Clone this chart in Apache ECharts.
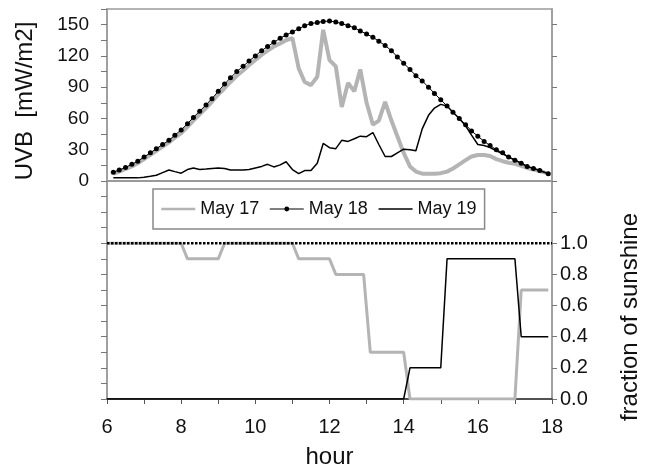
<!DOCTYPE html>
<html>
<head>
<meta charset="utf-8">
<script src="https://cdn.jsdelivr.net/npm/echarts@6/dist/echarts.min.js"></script>
<style>
  html, body { margin: 0; padding: 0; background: #fff; }
  #chart { width: 652px; height: 466px; }
</style>
</head>
<body>
<div id="chart"></div>
<script>
// time of day (hour), 10 min steps
var hours = [
  6.17, 6.33, 6.5, 6.67, 6.83, 7,
  7.17, 7.33, 7.5, 7.67, 7.83, 8,
  8.17, 8.33, 8.5, 8.67, 8.83, 9,
  9.17, 9.33, 9.5, 9.67, 9.83, 10,
  10.17, 10.33, 10.5, 10.67, 10.83, 11,
  11.17, 11.33, 11.5, 11.67, 11.83, 12,
  12.17, 12.33, 12.5, 12.67, 12.83, 13,
  13.17, 13.33, 13.5, 13.67, 13.83, 14,
  14.17, 14.33, 14.5, 14.67, 14.83, 15,
  15.17, 15.33, 15.5, 15.67, 15.83, 16,
  16.17, 16.33, 16.5, 16.67, 16.83, 17,
  17.17, 17.33, 17.5, 17.67, 17.9
];
// UVB [mW/m2]
var uvbMay17 = [
  7, 9, 11.5, 14, 17, 21,
  25, 29, 33, 37, 41.5, 46,
  52, 58, 64, 70, 76, 83,
  89, 95, 101, 106, 111, 116,
  121, 125, 129, 132, 135, 137,
  108, 95, 92, 100, 145, 116,
  110, 71, 94, 86, 107, 75,
  54, 58, 76, 58, 43, 27,
  14, 9, 7, 7, 7, 7.5,
  9, 12, 16, 20, 23.5, 25,
  25, 24, 21, 19, 17.5, 16.5,
  14.5, 12.5, 11, 9.5, 7
];
var uvbMay18 = [
  8.5, 10.5, 13, 16, 19, 23,
  27, 31, 35, 39, 44, 49,
  55, 61, 67, 73, 79, 86,
  93, 99, 105, 110, 115, 120,
  125, 129, 133, 137, 140, 143,
  146, 149, 151, 152, 153, 153.5,
  152.5, 151, 149, 147, 144, 141,
  138, 134, 130, 125, 119, 113,
  107, 101, 96, 90, 84, 78,
  72, 66, 60, 54, 48, 43,
  38, 34, 30, 27, 23, 20,
  17, 14, 12, 10, 7
];
var uvbMay19 = [
  3, 3, 3, 3, 3, 3.5,
  4.5, 5.5, 8, 10.5, 9, 7.5,
  11, 12.5, 11, 11.5, 12, 12.5,
  12, 10.5, 10.5, 10.5, 11, 12.5,
  14, 16, 13.5, 15.5, 18.5, 11,
  7, 10, 10, 17, 36, 32,
  31, 39, 38, 40.5, 43, 42.5,
  46.5, 35, 23.5, 23.5, 27, 30.5,
  30, 29, 50, 63, 70, 73.5,
  72, 66, 60, 53, 44, 35,
  34, 32, 29, 26, 23, 20,
  17, 14, 12, 10, 7
];
// fraction of sunshine
var fracHours17 = [6, 8, 8.17, 9, 9.17, 11, 11.17, 12, 12.17, 12.92, 13.1, 14, 14.17, 17, 17.17, 17.9];
var fracMay17 = [1, 1, 0.9, 0.9, 1, 1, 0.9, 0.9, 0.8, 0.8, 0.3, 0.3, 0, 0, 0.7, 0.7];
var fracHours18 = [6, 18];
var fracMay18 = [1, 1];
var fracHours19 = [6, 14, 14.17, 15, 15.17, 17, 17.17, 17.9];
var fracMay19 = [0, 0, 0.2, 0.2, 0.9, 0.9, 0.4, 0.4];

function pairs(xs, ys) {
  var out = [];
  for (var i = 0; i < xs.length; i++) out.push([xs[i], ys[i]]);
  return out;
}

var FONT = 'Liberation Sans, Arial, sans-serif';
var GRAY = '#b4b4b4';
var FRAME = '#9a9a9a';
var NO_DOT = {color: 'rgba(0,0,0,0)', borderWidth: 0};

var chart = echarts.init(document.getElementById('chart'));
var option = {
  animation: false,
  textStyle: {fontFamily: FONT, color: '#111'},
  grid: [
    {left: 107, right: 100, top: 9, height: 172, show: true, borderColor: FRAME, borderWidth: 1.5, outerBoundsMode: 'none', containLabel: false},
    {left: 107, right: 100, top: 181, height: 218, show: true, borderColor: FRAME, borderWidth: 1.5, outerBoundsMode: 'none', containLabel: false}
  ],
  legend: {
    left: 153, top: 189,
    padding: [11, 8, 11, 7],
    itemGap: 10, itemWidth: 34, itemHeight: 6,
    borderColor: '#888', borderWidth: 1.5,
    textStyle: {fontSize: 18, color: '#111', fontFamily: FONT},
    data: [
      {name: 'May 17', lineStyle: {width: 2.5, color: GRAY}, itemStyle: NO_DOT},
      {name: 'May 18', lineStyle: {width: 1, color: '#000'}, itemStyle: {color: '#000'}},
      {name: 'May 19', lineStyle: {width: 1.5, color: '#000'}, itemStyle: NO_DOT}
    ]
  },
  xAxis: [
    {
      gridIndex: 0, type: 'value', min: 6, max: 18, interval: 2,
      axisLine: {onZero: false, lineStyle: {color: FRAME, width: 2}},
      axisTick: {show: false}, axisLabel: {show: false}, splitLine: {show: false}
    },
    {
      gridIndex: 1, type: 'value', min: 6, max: 18, interval: 1,
      axisLine: {onZero: false, lineStyle: {color: '#333', width: 1.5}},
      axisTick: {length: 5, lineStyle: {color: '#555'}},
      axisLabel: {
        fontSize: 20, color: '#111', margin: 18,
        formatter: function (v) { return v % 2 === 0 ? v : ''; }
      },
      splitLine: {show: false},
      name: 'hour', nameLocation: 'middle', nameGap: 46,
      nameTextStyle: {fontSize: 24, color: '#111'}
    }
  ],
  yAxis: [
    {
      gridIndex: 0, type: 'value', position: 'left', min: 0, max: 165, interval: 15,
      axisLine: {show: true, lineStyle: {color: FRAME, width: 1.5}},
      axisTick: {show: true, length: 6, lineStyle: {color: '#777'}},
      axisLabel: {
        fontSize: 19, color: '#111', margin: 18,
        formatter: function (v) { return (v % 30 === 0 && v <= 150) ? v : ''; }
      },
      splitLine: {show: false},
      name: 'UVB  [mW/m2]', nameLocation: 'middle', nameRotate: 90, nameGap: 70,
      nameTextStyle: {fontSize: 24, color: '#111', padding: [0, 12, 0, 0]}
    },
    {
      gridIndex: 0, type: 'value', position: 'right', min: 0, max: 165, interval: 30,
      axisLine: {show: true, lineStyle: {color: FRAME, width: 1.5}},
      axisTick: {show: true, length: 5, lineStyle: {color: '#777'}, customValues: [0, 30, 60, 90, 120, 150]},
      axisLabel: {show: false}, splitLine: {show: false}
    },
    {
      gridIndex: 1, type: 'value', position: 'left', min: 0, max: 1.4, interval: 0.1,
      axisLine: {show: true, lineStyle: {color: FRAME, width: 1.5}},
      axisTick: {show: true, length: 6, lineStyle: {color: '#777'}},
      axisLabel: {show: false}, splitLine: {show: false}
    },
    {
      gridIndex: 1, type: 'value', position: 'right', min: 0, max: 1.4, interval: 0.2,
      axisLine: {show: true, lineStyle: {color: FRAME, width: 1.5}},
      axisTick: {show: true, length: 5, lineStyle: {color: '#777'}},
      axisLabel: {
        fontSize: 20, color: '#111', margin: 8,
        formatter: function (v) { return v <= 1.0001 ? v.toFixed(1) : ''; }
      },
      splitLine: {show: false},
      name: 'fraction of sunshine', nameLocation: 'middle', nameRotate: 90, nameGap: 66,
      nameTextStyle: {fontSize: 24, color: '#111', padding: [0, 54, 0, 0]}
    }
  ],
  series: [
    {
      name: 'May 17', type: 'line', xAxisIndex: 0, yAxisIndex: 0, z: 2,
      data: pairs(hours, uvbMay17), symbol: 'none',
      itemStyle: {color: GRAY}, lineStyle: {color: GRAY, width: 4}
    },
    {
      name: 'May 17', type: 'line', xAxisIndex: 1, yAxisIndex: 2, z: 2,
      data: pairs(fracHours17, fracMay17), symbol: 'none',
      itemStyle: {color: GRAY}, lineStyle: {color: GRAY, width: 3}
    },
    {
      name: 'May 18', type: 'line', xAxisIndex: 0, yAxisIndex: 0, z: 3,
      data: pairs(hours, uvbMay18), symbol: 'circle', symbolSize: 5,
      itemStyle: {color: '#000'}, lineStyle: {color: '#000', width: 1}
    },
    {
      name: 'May 18', type: 'line', xAxisIndex: 1, yAxisIndex: 2, z: 3,
      data: pairs(fracHours18, fracMay18), symbol: 'none',
      itemStyle: {color: '#000'}, lineStyle: {color: '#000', width: 2.5, type: [2.5, 1.5]}
    },
    {
      name: 'May 19', type: 'line', xAxisIndex: 0, yAxisIndex: 0, z: 4,
      data: pairs(hours, uvbMay19), symbol: 'none',
      itemStyle: {color: '#000'}, lineStyle: {color: '#000', width: 1.5}
    },
    {
      name: 'May 19', type: 'line', xAxisIndex: 1, yAxisIndex: 2, z: 4,
      data: pairs(fracHours19, fracMay19), symbol: 'none',
      itemStyle: {color: '#000'}, lineStyle: {color: '#000', width: 1.5}
    }
  ]
};
chart.setOption(option);
</script>
</body>
</html>
